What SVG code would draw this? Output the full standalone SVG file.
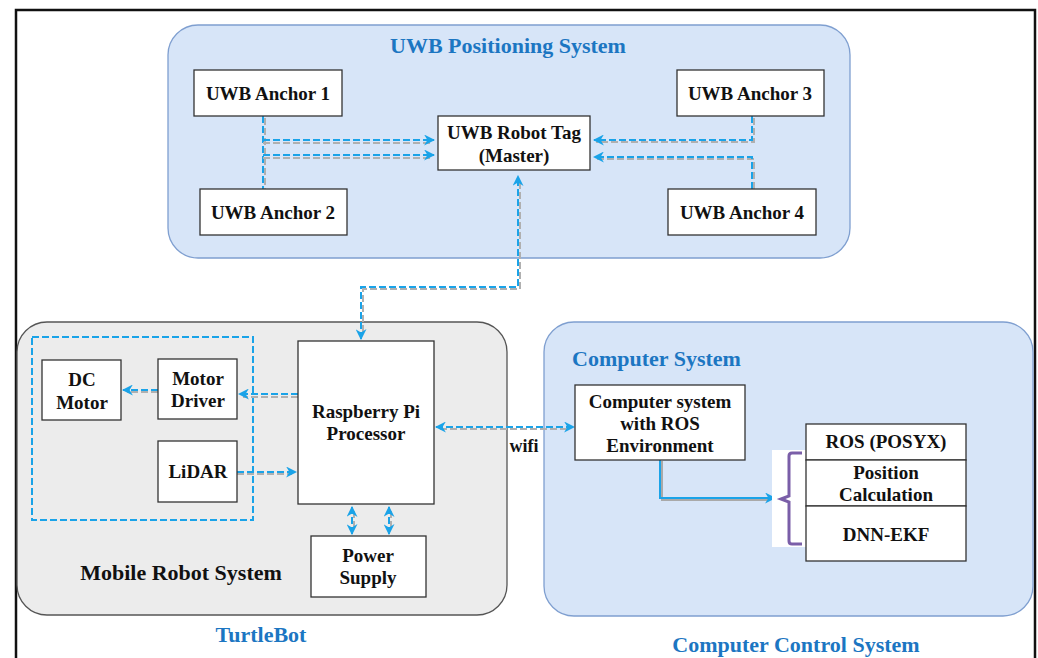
<svg xmlns="http://www.w3.org/2000/svg" width="1038" height="658" viewBox="0 0 1038 658">
<style>
.frame{fill:none;stroke:#111;stroke-width:2.5}
.grp-blue{fill:#d7e5f8;stroke:#7f9fd0;stroke-width:1.3}
.grp-grey{fill:#ececec;stroke:#555;stroke-width:1.3}
.box{fill:#fff;stroke:#333;stroke-width:1.3}
.lbl{font-family:"Liberation Serif","Times New Roman",serif;font-weight:bold;font-size:19px;fill:#111;text-anchor:middle}
.title{font-family:"Liberation Serif","Times New Roman",serif;font-weight:bold;font-size:22px;fill:#1c76c2}
.dash{fill:none;stroke:#1aa3e8;stroke-width:2;stroke-dasharray:7 3}
.shadow{fill:none;stroke:#b0b0b0;stroke-width:2;stroke-dasharray:7 3}
.solid{fill:none;stroke:#1aa3e8;stroke-width:2}
.solidsh{fill:none;stroke:#a9a9a9;stroke-width:2}
</style>
<defs>
<marker id="ah" viewBox="0 0 10 10" refX="9" refY="5" markerWidth="11" markerHeight="11" markerUnits="userSpaceOnUse" orient="auto-start-reverse">
<path d="M0,0 L10,5 L0,10 L3,5 z" fill="#1aa3e8"/>
</marker>
</defs>
<rect width="1038" height="658" fill="#fff"/>
<path class="frame" d="M16,670 L16,10 L1035,10 L1035,670"/>

<g id="uwb-system">
<rect class="grp-blue" x="168" y="25" width="682" height="233" rx="30"/>
<text class="title" x="508" y="53" text-anchor="middle">UWB Positioning System</text>
</g>
<g id="mobile-robot-system">
<rect class="grp-grey" x="17" y="322" width="490" height="293" rx="30"/>
<rect x="32" y="337" width="221" height="183" fill="none" stroke="#1aa3e8" stroke-width="2" stroke-dasharray="7 3"/>
<text class="lbl" x="181" y="580" style="font-size:22px">Mobile Robot System</text>
</g>
<g id="computer-system">
<rect class="grp-blue" x="544" y="322" width="489" height="294" rx="30"/>
<text class="title" x="572" y="366">Computer System</text>
</g>
<text class="title" x="261" y="642" text-anchor="middle">TurtleBot</text>
<text class="title" x="796" y="652" text-anchor="middle">Computer Control System</text>

<g id="connectors">
<path class="shadow" d="M265,118 L265,189"/>
<path class="dash" d="M263,116 L263,189"/>
<path class="shadow" d="M263,143 L432,143"/>
<path class="dash" d="M263,140 L434,140" marker-end="url(#ah)"/>
<path class="shadow" d="M263,158 L432,158"/>
<path class="dash" d="M263,155 L434,155" marker-end="url(#ah)"/>
<path class="shadow" d="M754,118 L754,142 L596,142"/>
<path class="dash" d="M752,116 L752,140 L594,140" marker-end="url(#ah)"/>
<path class="shadow" d="M754,189 L754,159 L596,159"/>
<path class="dash" d="M752,189 L752,157 L594,157" marker-end="url(#ah)"/>
<path class="shadow" d="M520,182 L520,289 L363,289 L363,334"/>
<path class="dash" d="M361,339 L361,287 L518,287 L518,176" marker-start="url(#ah)" marker-end="url(#ah)"/>
<path class="shadow" d="M298,397 L243,397"/>
<path class="dash" d="M298,394 L239,394" marker-end="url(#ah)"/>
<path class="shadow" d="M158,392 L127,392"/>
<path class="dash" d="M158,390 L123,390" marker-end="url(#ah)"/>
<path class="shadow" d="M237,474 L292,474"/>
<path class="dash" d="M237,472 L296,472" marker-end="url(#ah)"/>
<path class="shadow" d="M354,511 L354,531"/>
<path class="dash" d="M352,507 L352,534" marker-start="url(#ah)" marker-end="url(#ah)"/>
<path class="shadow" d="M391,511 L391,531"/>
<path class="dash" d="M389,507 L389,534" marker-start="url(#ah)" marker-end="url(#ah)"/>
<path class="shadow" d="M440,429 L570,429"/>
<path class="dash" d="M436,427 L574,427" marker-start="url(#ah)" marker-end="url(#ah)"/>
<text class="lbl" x="524" y="452" style="font-size:18px">wifi</text>
<path class="solidsh" d="M662,461 L662,500 L770,500"/>
<path class="solid" d="M660,460 L660,498 L775,498" marker-end="url(#ah)"/>
</g>

<g id="anchor1"><rect class="box" x="194" y="70" width="148" height="46"/><text class="lbl" x="268" y="100">UWB Anchor 1</text></g>
<g id="anchor3"><rect class="box" x="677" y="70" width="147" height="46"/><text class="lbl" x="750" y="100">UWB Anchor 3</text></g>
<g id="tag"><rect class="box" x="438" y="116" width="152" height="54"/><text class="lbl" x="514" y="139">UWB Robot Tag</text><text class="lbl" x="514" y="162">(Master)</text></g>
<g id="anchor2"><rect class="box" x="200" y="189" width="147" height="46"/><text class="lbl" x="273" y="219">UWB Anchor 2</text></g>
<g id="anchor4"><rect class="box" x="668" y="189" width="148" height="46"/><text class="lbl" x="742" y="219">UWB Anchor 4</text></g>

<g id="dc-motor"><rect class="box" x="42" y="360" width="79" height="60"/><text class="lbl" x="82" y="386">DC</text><text class="lbl" x="82" y="409">Motor</text></g>
<g id="motor-driver"><rect class="box" x="158" y="359" width="79" height="60"/><text class="lbl" x="198" y="385">Motor</text><text class="lbl" x="198" y="407">Driver</text></g>
<g id="lidar"><rect class="box" x="158" y="441" width="79" height="61"/><text class="lbl" x="198" y="478">LiDAR</text></g>
<g id="raspberry"><rect class="box" x="298" y="341" width="136" height="163"/><text class="lbl" x="366" y="418">Raspberry Pi</text><text class="lbl" x="366" y="440">Processor</text></g>
<g id="power"><rect class="box" x="311" y="536" width="115" height="61"/><text class="lbl" x="368" y="562">Power</text><text class="lbl" x="368" y="584">Supply</text></g>

<g id="computer"><rect class="box" x="575" y="385" width="170" height="75"/><text class="lbl" x="660" y="408">Computer system</text><text class="lbl" x="660" y="430">with ROS</text><text class="lbl" x="660" y="452">Environment</text></g>

<g id="ros-stack">
<rect x="772" y="450" width="34" height="97" fill="#fff"/>
<path d="M802,453 L792,453 Q789,453 789,456 L789,496 L781,499 L789,502 L789,541 Q789,544 792,544 L802,544" fill="none" stroke="#7a5ea8" stroke-width="3"/>
<rect class="box" x="806" y="424" width="160" height="36"/><text class="lbl" x="886" y="448">ROS (POSYX)</text>
<rect class="box" x="806" y="460" width="160" height="46"/><text class="lbl" x="886" y="479">Position</text><text class="lbl" x="886" y="501">Calculation</text>
<rect class="box" x="806" y="506" width="160" height="55"/><text class="lbl" x="886" y="541">DNN-EKF</text>
</g>
</svg>
